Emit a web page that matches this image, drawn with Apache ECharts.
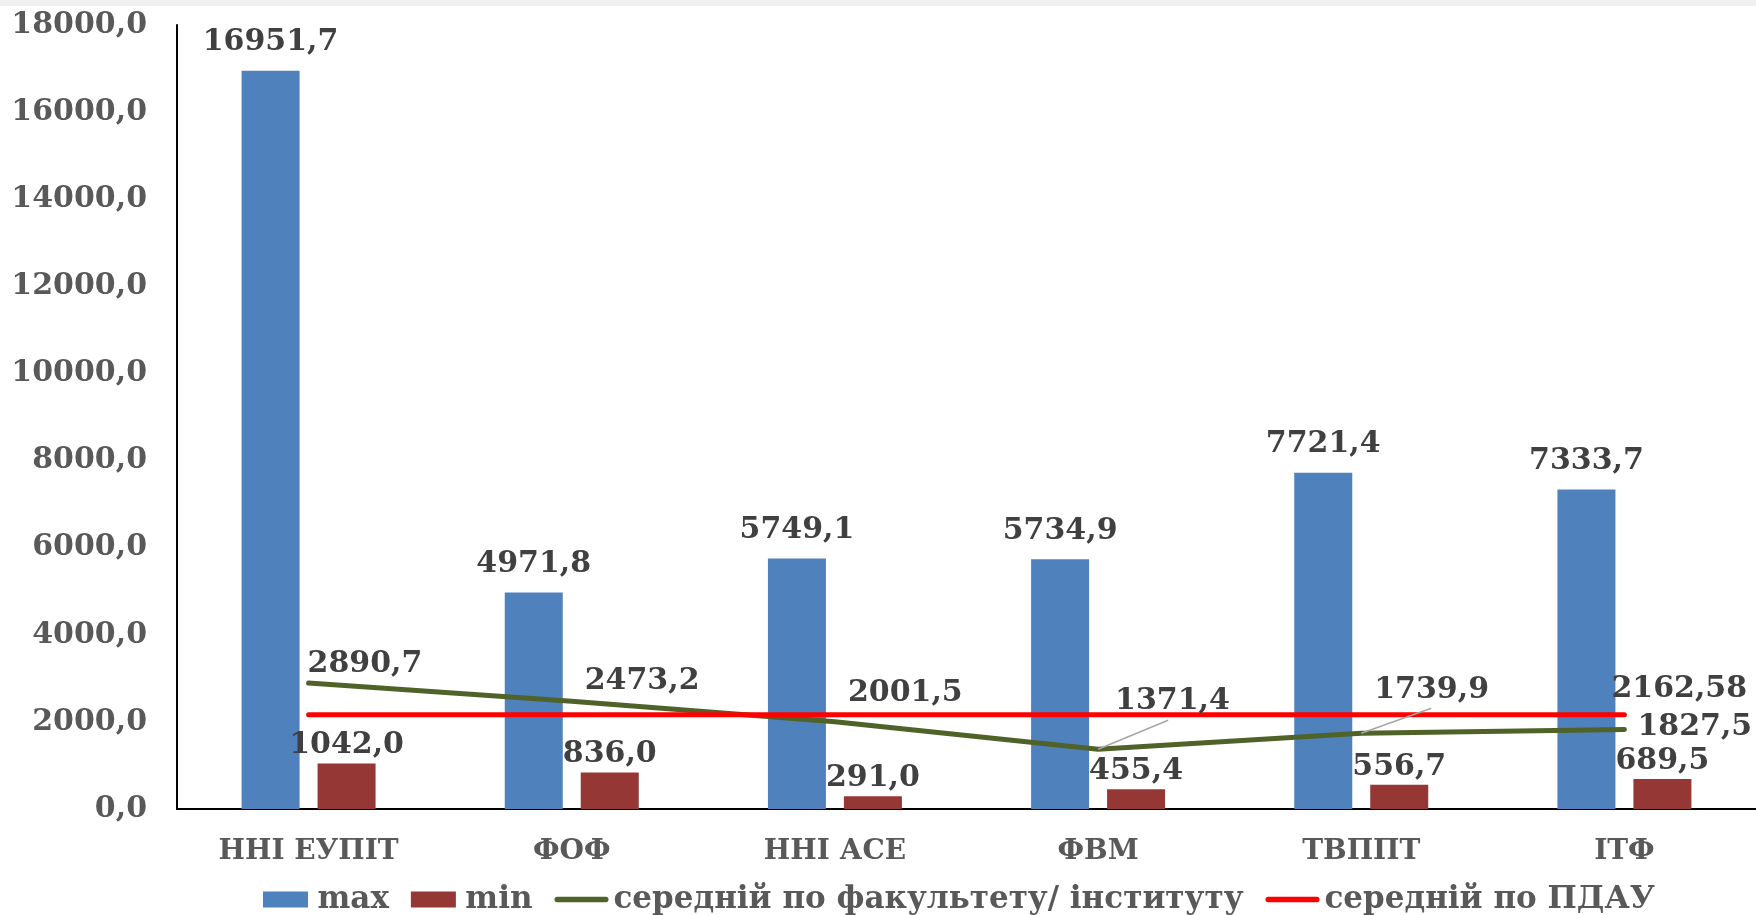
<!DOCTYPE html>
<html>
<head>
<meta charset="utf-8">
<script src="https://cdn.jsdelivr.net/npm/echarts@6/dist/echarts.min.js"></script>
<style>
  html, body { margin: 0; padding: 0; background: #fff; }
  #strip { position: absolute; left: 0; top: 0; width: 1756px; height: 6px; background: #f0f0f0; z-index: 2; }
  #chart { width: 1756px; height: 915px; }
</style>
</head>
<body>
<div id="strip"></div>
<div id="chart"></div>
<script>
// data
const categories = ['ННІ ЕУПІТ', 'ФОФ', 'ННІ АСЕ', 'ФВМ', 'ТВППТ', 'ІТФ'];
const maxValues = [16951.7, 4971.8, 5749.1, 5734.9, 7721.4, 7333.7];
const minValues = [1042.0, 836.0, 291.0, 455.4, 556.7, 689.5];
const facultyAvg = [2890.7, 2473.2, 2001.5, 1371.4, 1739.9, 1827.5];
const pdauAvg = [2162.58, 2162.58, 2162.58, 2162.58, 2162.58, 2162.58];
const seriesNames = ['max', 'min', 'середній по факультету/ інституту', 'середній по ПДАУ'];

const FONT = 'DejaVu Serif';
const comma1 = (v) => v.toFixed(1).replace('.', ',');

// label nudges for the green line (dx, dy)
const greenShift = [[-2, -19], [12, -20], [12, -29], [16, -48], [12, -43], [12, -2]];
// leader lines (pixel offset from the point to the line end), null = none
const greenLeader = [null, null, null, [70, -29], [70, -25], null];

const lineIcon = 'path://M5,0 H95 A5,5 0 0 1 95,10 H5 A5,5 0 0 1 5,0 Z';
const boxIcon = 'path://M0,0 H45 V16 H0 Z';

const chart = echarts.init(document.getElementById('chart'));

const labelFont = {
  fontFamily: FONT,
  fontWeight: 'bold',
  fontSize: 30,
  color: '#404040'
};

const options = {
  backgroundColor: '#ffffff',
  animation: false,
  grid: {
    left: 177,
    right: 0,
    top: 25,
    bottom: 106
  },
  legend: {
    left: 258,
    bottom: -5,
    itemWidth: 54,
    itemHeight: 16,
    itemGap: 22,
    textStyle: {
      fontFamily: FONT,
      fontWeight: 'bold',
      fontSize: 31,
      color: '#595959'
    },
    data: [
      { name: seriesNames[0], icon: boxIcon },
      { name: seriesNames[1], icon: boxIcon },
      { name: seriesNames[2], icon: lineIcon },
      { name: seriesNames[3], icon: lineIcon }
    ]
  },
  xAxis: {
    type: 'category',
    data: categories,
    axisLine: { lineStyle: { color: '#000', width: 2 } },
    axisTick: { show: false },
    axisLabel: {
      margin: 29,
      fontFamily: FONT,
      fontWeight: 'bold',
      fontSize: 28,
      color: '#595959'
    }
  },
  yAxis: {
    type: 'value',
    min: 0,
    max: 18000,
    interval: 2000,
    splitLine: { show: false },
    axisTick: { show: false },
    axisLine: { show: true, lineStyle: { color: '#000', width: 2 } },
    axisLabel: {
      margin: 30,
      formatter: comma1,
      fontFamily: FONT,
      fontWeight: 'bold',
      fontSize: 30,
      color: '#595959'
    }
  },
  series: [
    {
      name: seriesNames[0],
      type: 'bar',
      data: maxValues,
      barWidth: 58,
      barGap: '31%',
      itemStyle: { color: '#4F81BD' },
      label: Object.assign({
        show: true,
        position: 'top',
        distance: 13,
        formatter: (p) => comma1(p.value)
      }, labelFont)
    },
    {
      name: seriesNames[1],
      type: 'bar',
      data: minValues,
      barWidth: 58,
      barGap: '31%',
      itemStyle: { color: '#953735' },
      label: Object.assign({
        show: true,
        position: 'top',
        distance: 3,
        formatter: (p) => comma1(p.value)
      }, labelFont)
    },
    {
      name: seriesNames[2],
      type: 'line',
      data: facultyAvg,
      symbol: 'circle',
      symbolSize: 2,
      itemStyle: { color: '#4F6228' },
      lineStyle: { color: '#4F6228', width: 5, cap: 'round' },
      label: Object.assign({
        show: true,
        position: 'right',
        distance: 0,
        formatter: (p) => comma1(p.value)
      }, labelFont),
      labelLayout: (p) => ({ dx: greenShift[p.dataIndex][0], dy: greenShift[p.dataIndex][1] })
    },
    {
      name: seriesNames[3],
      type: 'line',
      data: pdauAvg.map((v, i) => ({
        value: v,
        label: { show: i === pdauAvg.length - 1 }
      })),
      symbol: 'circle',
      symbolSize: 2,
      itemStyle: { color: '#FF0000' },
      lineStyle: { color: '#FF0000', width: 5, cap: 'round' },
      label: Object.assign({
        show: false,
        position: 'right',
        distance: 0,
        formatter: (p) => String(p.value).replace('.', ',')
      }, labelFont),
      labelLayout: { dx: -14, dy: -26 }
    },
    {
      // grey leader lines from the green points to their labels
      type: 'custom',
      z: 5,
      silent: true,
      data: facultyAvg.map((v, i) => [i, v]),
      renderItem: (params, api) => {
        const off = greenLeader[params.dataIndex];
        if (!off) return null;
        const p = api.coord([api.value(0), api.value(1)]);
        return {
          type: 'line',
          shape: { x1: p[0], y1: p[1], x2: p[0] + off[0], y2: p[1] + off[1] },
          style: { stroke: '#A6A6A6', lineWidth: 1.5 }
        };
      }
    }
  ]
};

chart.setOption(options);
</script>
</body>
</html>
